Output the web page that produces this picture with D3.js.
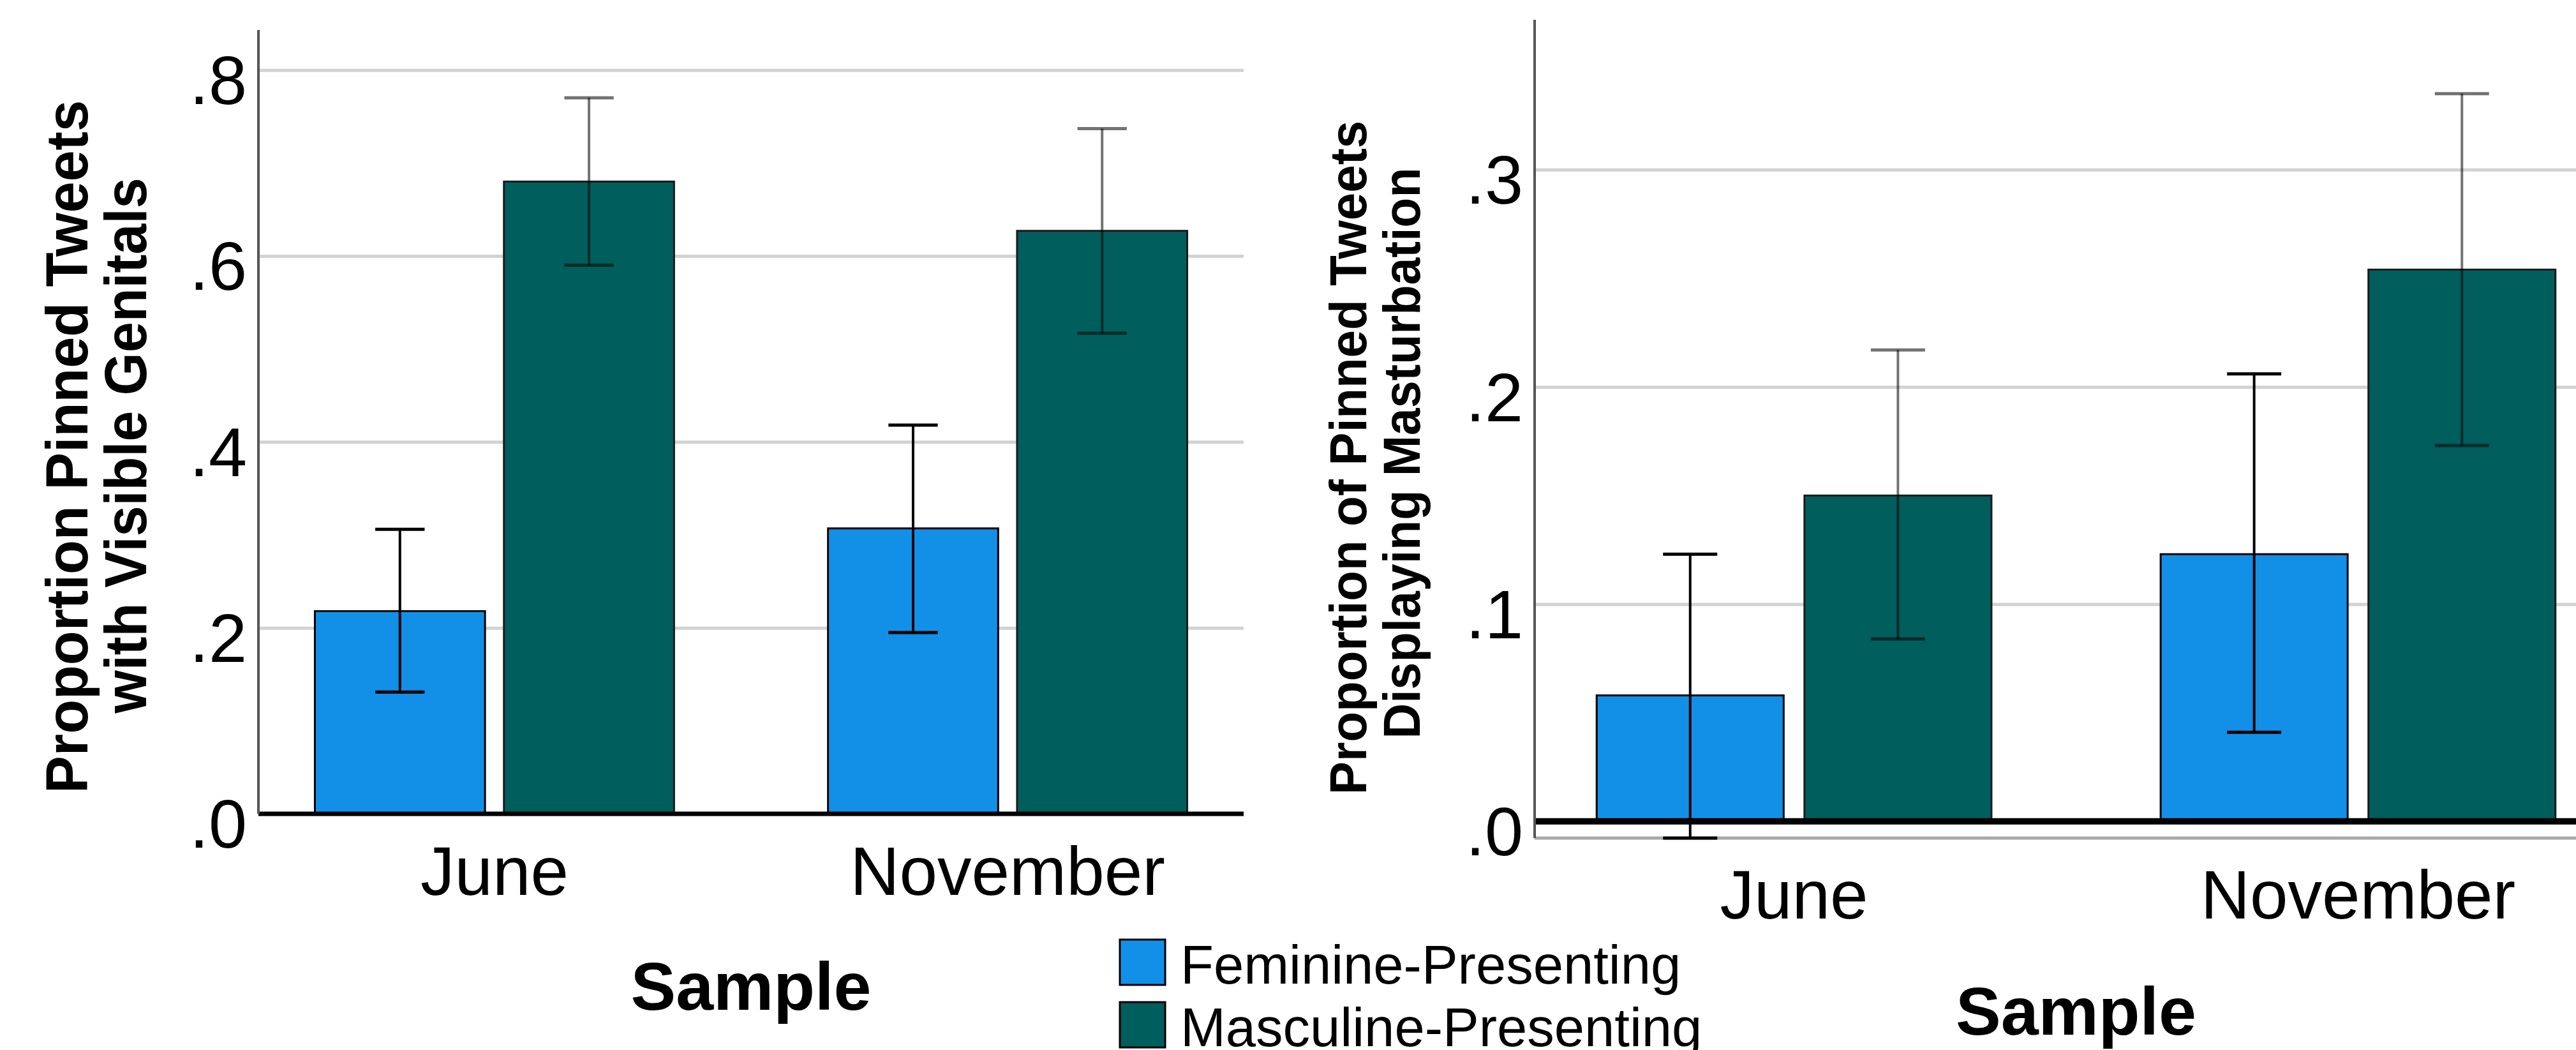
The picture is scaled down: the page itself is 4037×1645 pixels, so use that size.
<!DOCTYPE html>
<html>
<head>
<meta charset="utf-8">
<script src="https://cdn.jsdelivr.net/npm/d3@7"></script>
<style>
  html, body { margin: 0; padding: 0; background: #fff; }
  svg { display: block; font-family: "Liberation Sans", Arial, sans-serif; }
</style>
</head>
<body>
<svg id="chart"></svg>
<script>
'use strict';

// categories
var samples = ['June', 'November'];
var groups = ['Feminine-Presenting', 'Masculine-Presenting'];
var group_colors = ['#1290e7', '#005e5c'];

// left panel: visible genitals (rows = sample, cols = group)
var genitals_mean = [[0.218, 0.680], [0.307, 0.627]];
var genitals_low = [[0.131, 0.590], [0.195, 0.517]];
var genitals_high = [[0.306, 0.770], [0.418, 0.737]];
var genitals_ticks = [0, 0.2, 0.4, 0.6, 0.8];

// right panel: masturbation
var mast_mean = [[0.058, 0.150], [0.123, 0.254]];
var mast_low = [[-0.0077, 0.084], [0.041, 0.173]];
var mast_high = [[0.123, 0.217], [0.206, 0.335]];
var mast_ticks = [0, 0.1, 0.2, 0.3];

var width = 4037, height = 1645;
var svg = d3.select('#chart').attr('width', width).attr('height', height);

var tick_format = function (d) { return d3.format('.1f')(d).replace(/^0/, ''); };

function drawPanel(p) {
    var x = d3.scaleBand().domain(samples).range([p.left, p.right]).paddingInner(0.3).paddingOuter(0.11);
    var xg = d3.scaleBand().domain(groups).range([0, x.bandwidth()]).paddingInner(0.1).paddingOuter(0);
    var y = d3.scaleLinear().domain(p.domain).range([p.bottom, p.top]);

    var g = svg.append('g');

    // gridlines + tick labels
    var axis = g.append('g').attr('transform', 'translate(' + p.left + ',0)')
        .call(d3.axisLeft(y).tickValues(p.ticks).tickFormat(tick_format).tickSize(-(p.grid_right - p.left)).tickPadding(18));
    axis.select('.domain').remove();
    axis.selectAll('.tick line').attr('stroke', '#d2d2d2').attr('stroke-width', 5);
    axis.selectAll('.tick text').attr('fill', '#000').style('font-size', '108px').attr('dy', '0.49em');
    axis.attr('font-family', null).attr('font-size', null);

    // bottom axis line (right panel extends below zero)
    if (p.domain[0] < 0) {
        g.append('line').attr('x1', p.left).attr('x2', p.grid_right)
            .attr('y1', p.bottom).attr('y2', p.bottom)
            .attr('stroke', '#a8a8a8').attr('stroke-width', 5);
    }

    // bars
    var cells = [];
    samples.forEach(function (s, i) {
        groups.forEach(function (grp, j) {
            cells.push({ s: s, grp: grp, j: j, mean: p.mean[i][j], low: p.low[i][j], high: p.high[i][j] });
        });
    });

    g.selectAll('.bar').data(cells).enter().append('rect')
        .attr('x', function (d) { return x(d.s) + xg(d.grp); })
        .attr('y', function (d) { return y(d.mean); })
        .attr('width', xg.bandwidth())
        .attr('height', function (d) { return y(0) - y(d.mean); })
        .attr('fill', function (d) { return group_colors[d.j]; })
        .attr('stroke', function (d) { return d.j === 0 ? '#000' : '#1b1b1b'; })
        .attr('stroke-width', 3);

    // zero line
    g.append('line').attr('x1', p.left).attr('x2', p.grid_right)
        .attr('y1', y(0)).attr('y2', y(0))
        .attr('stroke', '#000').attr('stroke-width', p.zero_width);

    // y axis line
    g.append('line').attr('x1', p.left).attr('x2', p.left)
        .attr('y1', p.top).attr('y2', p.bottom)
        .attr('stroke', '#555').attr('stroke-width', 4);

    // error bars
    var cap = xg.bandwidth() * 0.29;
    var err = g.selectAll('.err').data(cells).enter().append('g')
        .attr('stroke', '#000')
        .attr('stroke-opacity', function (d) { return d.j === 0 ? 1 : 0.55; });
    err.append('line')
        .attr('x1', function (d) { return x(d.s) + xg(d.grp) + xg.bandwidth() / 2; })
        .attr('x2', function (d) { return x(d.s) + xg(d.grp) + xg.bandwidth() / 2; })
        .attr('y1', function (d) { return y(d.low); })
        .attr('y2', function (d) { return y(d.high); })
        .attr('stroke-width', 4);
    ['low', 'high'].forEach(function (k) {
        err.append('line')
            .attr('x1', function (d) { return x(d.s) + xg(d.grp) + xg.bandwidth() / 2 - cap / 2; })
            .attr('x2', function (d) { return x(d.s) + xg(d.grp) + xg.bandwidth() / 2 + cap / 2; })
            .attr('y1', function (d) { return y(d[k]); })
            .attr('y2', function (d) { return y(d[k]); })
            .attr('stroke-width', 5);
    });

    // category labels
    g.selectAll('.cat').data(samples).enter().append('text')
        .attr('x', function (d) { return x(d) + x.bandwidth() / 2; })
        .attr('y', p.cat_y)
        .attr('text-anchor', 'middle')
        .style('font-size', '107px')
        .text(function (d) { return d; });

    // x title
    g.append('text')
        .attr('x', (p.left + p.right) / 2).attr('y', p.xtitle_y)
        .attr('text-anchor', 'middle')
        .style('font-size', '106px').style('font-weight', 'bold')
        .text('Sample');

    // y title (two lines)
    p.ytitle.forEach(function (line, i) {
        g.append('text')
            .attr('transform', 'translate(' + p.ytitle_x[i] + ',' + p.ytitle_cy[i] + ') rotate(-90)')
            .attr('text-anchor', 'middle')
            .attr('textLength', p.ytitle_len[i])
            .attr('lengthAdjust', 'spacingAndGlyphs')
            .style('font-size', p.ytitle_size + 'px').style('font-weight', 'bold')
            .text(line);
    });
}

drawPanel({
    left: 405, right: 1949, grid_right: 1949, top: 47, bottom: 1275,
    domain: [0, 0.843], ticks: genitals_ticks,
    mean: genitals_mean, low: genitals_low, high: genitals_high,
    zero_width: 7, cat_y: 1402, xtitle_y: 1582,
    ytitle: ['Proportion Pinned Tweets', 'with Visible Genitals'],
    ytitle_x: [137, 229], ytitle_cy: [700, 698], ytitle_len: [1086, 839], ytitle_size: 92
});

drawPanel({
    left: 2405, right: 4102, grid_right: 4037, top: 31, bottom: 1313,
    domain: [-0.0077, 0.369], ticks: mast_ticks,
    mean: mast_mean, low: mast_low, high: mast_high,
    zero_width: 10, cat_y: 1439, xtitle_y: 1621,
    ytitle: ['Proportion of Pinned Tweets', 'Displaying Masturbation'],
    ytitle_x: [2141, 2225], ytitle_cy: [717, 710], ytitle_len: [1056, 895], ytitle_size: 81
});

// legend
var legend = svg.append('g').attr('transform', 'translate(1755,1472)');
var item = legend.selectAll('.item').data(groups).enter().append('g')
    .attr('transform', function (d, i) { return 'translate(0,' + (i * 98) + ')'; });
item.append('rect').attr('width', 71).attr('height', 71)
    .attr('fill', function (d, i) { return group_colors[i]; })
    .attr('stroke', '#000').attr('stroke-width', 3);
item.append('text').attr('x', 95).attr('y', 69)
    .style('font-size', '85px')
    .text(function (d) { return d; });
</script>
</body>
</html>
